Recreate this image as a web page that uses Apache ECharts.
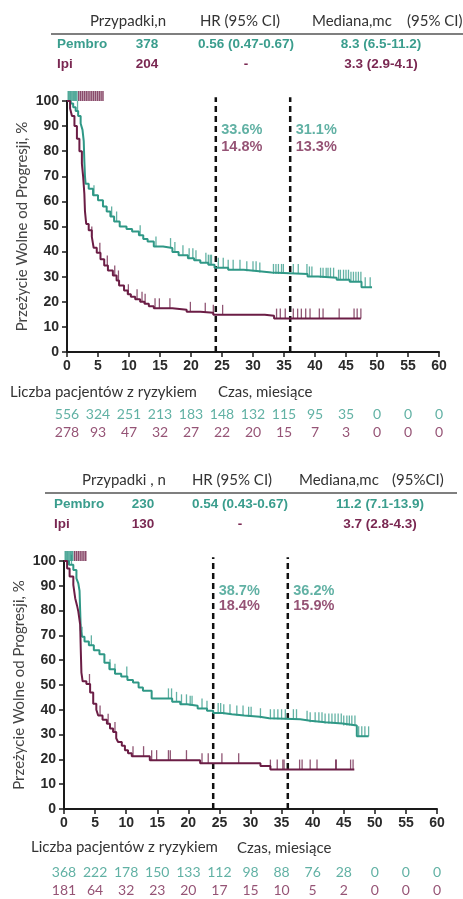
<!DOCTYPE html>
<html>
<head>
<meta charset="utf-8">
<script src="https://cdn.jsdelivr.net/npm/echarts@6/dist/echarts.min.js"></script>
<style>
  html, body { margin: 0; padding: 0; background: #fff; }
  #chart { width: 463px; height: 899px; }
</style>
</head>
<body>
<div id="chart"></div>
<script>
// ---- dane ----
var groups = ['Pembro', 'Ipi'];
var timeTicks = [0, 5, 10, 15, 20, 25, 30, 35, 40, 45, 50, 55, 60];
var landmarks = [24, 36];

// panel 1
var events1 = [378, 204];
var hr1 = ['0.56 (0.47-0.67)', '-'];
var median1 = ['8.3 (6.5-11.2)', '3.3 (2.9-4.1)'];
var pct24_1 = [33.6, 14.8];
var pct36_1 = [31.1, 13.3];
var pembroKM1 = [[0,100],[0.6,99],[1.0,97.5],[1.4,96],[1.8,94],[2.2,91],[2.5,88.5],[2.7,84],[2.8,76],[2.9,70],[3.0,67],[3.5,65],[4.2,62.5],[5.0,60.5],[5.8,58],[6.4,56],[7.0,54],[7.6,52],[8.5,50],[9.6,49],[10.5,48],[11.6,46.5],[12.3,45],[13.0,44],[14.0,42],[15.5,41.4],[17.0,39.8],[18.0,38.5],[19.5,37.4],[20.5,36.6],[21.5,35.6],[22.8,34.8],[23.8,33.6],[26.0,32.8],[28.5,32.2],[31.0,31.7],[33.0,31.1],[38.8,30.1],[40.5,29.6],[43.5,28.8],[45.6,28.0],[47.5,25.8],[49.2,25.8]];
var ipiKM1 = [[0,100],[0.5,97],[0.8,94],[1.2,90],[1.6,85],[2.0,80],[2.4,75],[2.6,70],[2.8,63],[2.9,56],[3.1,51],[3.5,48.5],[4.0,46],[4.3,41.5],[4.8,39.5],[5.4,37],[6.0,34.5],[6.6,32.5],[7.4,30.5],[8.0,28.5],[8.4,26.5],[9.2,24.5],[9.8,23],[10.3,22],[11.0,21],[11.8,20],[12.5,19.2],[13.2,18.2],[14.0,17.4],[17.0,16.8],[19.3,16.0],[21.5,15.6],[23.6,14.8],[31.9,14.4],[33.4,13.3],[47.4,13.3]];
var pembroCens1 = [1.7,4.35,7.2,8.0,11.8,14.35,16.7,17.4,18.7,19.7,20.3,20.8,22.4,22.8,23.1,23.3,24.4,25.2,26.0,26.8,27.9,29.0,30.0,30.5,31.1,33.3,33.7,34.1,34.6,34.9,36.5,37.3,38.7,39.1,39.5,40.9,41.3,41.8,42.1,42.5,43.0,43.8,44.1,44.6,45.0,45.4,45.8,46.2,46.6,47.0,47.4,48.1,48.9];
var ipiCens1 = [4.0,5.3,6.5,7.7,8.3,9.9,11.3,12.1,12.6,14.2,14.9,16.6,19.9,22.3,23.6,25.1,33.8,34.4,35.2,36.5,37.2,37.8,38.5,39.2,40.7,41.3,43.9,46.3,46.8,47.4];
var pembroTop1 = [0.2,0.4,0.6,0.8,1.0,1.2,1.4,1.6];
var ipiTop1 = [1.9,2.2,2.5,2.8,3.1,3.4,3.7,4.0,4.3,4.6,4.9,5.2,5.5,5.8];
var pembroRisk1 = [556, 324, 251, 213, 183, 148, 132, 115, 95, 35, 0, 0, 0];
var ipiRisk1 = [278, 93, 47, 32, 27, 22, 20, 15, 7, 3, 0, 0, 0];

// panel 2
var events2 = [230, 130];
var hr2 = ['0.54 (0.43-0.67)', '-'];
var median2 = ['11.2 (7.1-13.9)', '3.7 (2.8-4.3)'];
var pct24_2 = [38.7, 18.4];
var pct36_2 = [36.2, 15.9];
var pembroKM2 = [[0,100],[0.8,98.5],[1.5,96.4],[2.0,93],[2.3,91],[2.5,88],[2.6,80],[2.7,72],[2.9,69.5],[3.3,67.5],[4.0,66],[4.8,64],[5.7,62.4],[6.5,59],[7.3,56.4],[8.2,54.5],[9.2,53.4],[10.2,52],[11.1,51],[12.0,49],[12.7,47.7],[14.1,44.6],[17.4,43.2],[18.7,42.2],[19.8,41.6],[21.5,40.5],[23.0,39.6],[24.0,38.7],[25.5,38.2],[27.0,37.7],[29.0,37.2],[31.5,36.6],[33.0,36.2],[38.0,35.6],[39.6,35.0],[42.0,34.5],[44.8,33.7],[47.1,29.3],[49.0,29.3]];
var ipiKM2 = [[0,100],[0.5,97],[0.9,93.7],[1.5,90.4],[1.8,85],[2.1,82],[2.3,79.7],[2.6,74.4],[2.7,64],[2.8,55],[3.0,51.5],[3.6,50.4],[4.2,47],[4.7,42.4],[5.2,40],[5.5,37.7],[6.2,36],[6.9,34.4],[7.4,32.5],[7.9,31],[8.4,28.5],[8.7,27],[9.3,25.5],[9.8,23.7],[10.3,22.5],[10.9,21.3],[13.8,19.7],[21.9,18.4],[31.6,17.3],[33.2,15.9],[46.7,15.9]];
var pembroCens2 = [1.2,2.9,4.4,7.4,8.2,10.1,16.8,17.3,18.1,18.9,19.7,20.3,20.6,22.2,23.0,24.8,25.2,25.7,26.7,27.8,28.8,29.7,30.1,31.6,33.2,33.8,34.4,35.0,35.6,36.9,37.4,39.1,39.6,40.4,41.0,41.5,42.0,42.6,43.1,43.6,44.1,44.6,45.0,45.5,45.9,46.3,46.8,47.4,47.9,48.4,49.0];
var ipiCens2 = [4.1,5.8,7.1,8.2,11.1,12.8,14.1,14.9,16.8,17.1,19.7,22.2,23.2,25.4,28.1,33.2,34.3,35.2,35.4,37.9,38.3,39.6,40.7,43.7,43.8,46.1,46.5];
var pembroTop2 = [0.2,0.4,0.6,0.8,1.0,1.2,1.4];
var ipiTop2 = [1.7,2.0,2.3,2.6,2.9,3.2,3.5];
var pembroRisk2 = [368, 222, 178, 150, 133, 112, 98, 88, 76, 28, 0, 0, 0];
var ipiRisk2 = [181, 64, 32, 23, 20, 17, 15, 10, 5, 2, 0, 0, 0];

// ---- style ----
var TEAL = '#2f9886', TEAL_TXT = '#3a9d8d';
var PLUM = '#6b1d45', PLUM_TXT = '#7a2852';
var FONT = 'Lato, "Open Sans", sans-serif';
var BOLD = '"Liberation Sans", Arial, sans-serif';
var yName = 'Przeżycie Wolne od Progresji, %';

// wartość krzywej w chwili t (do umieszczenia znaczników cenzurowania)
function survAt(km, t) {
  var v = km[0][1];
  for (var i = 0; i < km.length; i++) { if (km[i][0] <= t) v = km[i][1]; }
  return v;
}

var myChart = echarts.init(document.getElementById('chart'));

var grids = [
  { left: 67, top: 101, width: 372, height: 251 },
  { left: 67, top: 405, width: 372, height: 36 },
  { left: 64, top: 561, width: 373, height: 248 },
  { left: 64, top: 864, width: 373, height: 38 }
];

function mainX(gi) {
  return {
    type: 'value', gridIndex: gi, min: 0, max: 60, interval: 5,
    axisLine: { lineStyle: { color: '#1a1a1a', width: 2 } },
    axisTick: { length: 5, lineStyle: { color: '#1a1a1a', width: 1.5 } },
    axisLabel: { color: '#2a2a2a', fontFamily: BOLD, fontWeight: 'bold', fontSize: 14, margin: 7 },
    splitLine: { show: false }
  };
}
function mainY(gi) {
  return {
    type: 'value', gridIndex: gi, min: 0, max: 100, interval: 10,
    name: yName, nameLocation: 'middle', nameGap: 37, nameRotate: 90, nameMoveOverlap: false,
    nameTextStyle: { fontFamily: FONT, fontSize: 15, color: '#444' },
    axisLine: { show: true, lineStyle: { color: '#1a1a1a', width: 2 } },
    axisTick: { show: true, length: 5, lineStyle: { color: '#1a1a1a', width: 1.5 } },
    axisLabel: { color: '#2a2a2a', fontFamily: BOLD, fontWeight: 'bold', fontSize: 14, margin: 8 },
    splitLine: { show: false }
  };
}
function riskX(gi) {
  return { type: 'value', gridIndex: gi, min: 0, max: 60, interval: 5, show: false };
}
function riskY(gi) {
  return { type: 'category', gridIndex: gi, data: groups, inverse: true, show: false };
}

function kmSeries(gi, km, color) {
  return {
    type: 'line', xAxisIndex: gi, yAxisIndex: gi, data: km, step: 'end',
    showSymbol: false, lineStyle: { color: color, width: 2 }, z: 3
  };
}
// przerywane linie 24 i 36 mies.
function dashSeries(gi) {
  return landmarks.map(function (m) {
    return {
      type: 'line', xAxisIndex: gi, yAxisIndex: gi, data: [[m, 0], [m, 101.5]],
      showSymbol: false, clip: false, silent: true, z: 1,
      lineStyle: { color: '#111', type: [6, 4], width: 2.5 }
    };
  });
}
function censSeries(gi, km, times, color) {
  return {
    type: 'scatter', xAxisIndex: gi, yAxisIndex: gi,
    data: times.map(function (t) { return [t, survAt(km, t)]; }),
    symbol: 'rect', symbolSize: [1.3, 10], symbolOffset: [0, -5],
    itemStyle: { color: color, opacity: 0.75 }, z: 2, silent: true
  };
}
function topSeries(gi, times, color) {
  return {
    type: 'scatter', xAxisIndex: gi, yAxisIndex: gi,
    data: times.map(function (t) { return [t, 100]; }),
    symbol: 'rect', symbolSize: [1.5, 10], symbolOffset: [0, -5],
    itemStyle: { color: color, opacity: 0.8 }, z: 2, silent: true
  };
}
function pctSeries(gi, t, vals, ys) {
  return {
    type: 'scatter', xAxisIndex: gi, yAxisIndex: gi, symbolSize: 1,
    itemStyle: { color: 'rgba(0,0,0,0)' }, silent: true,
    data: vals.map(function (v, i) {
      return {
        value: [t, ys[i]],
        label: {
          show: true, position: 'right', distance: 5,
          formatter: v.toFixed(1) + '%',
          color: i === 0 ? TEAL_TXT : PLUM_TXT,
          fontFamily: BOLD, fontWeight: 'bold', fontSize: 14.5
        }
      };
    })
  };
}
function riskSeries(gi, vals, row, color) {
  return {
    type: 'scatter', xAxisIndex: gi, yAxisIndex: gi, symbolSize: 1,
    itemStyle: { color: 'rgba(0,0,0,0)' }, silent: true,
    data: vals.map(function (v, i) { return [timeTicks[i], row, v]; }),
    label: {
      show: true, position: 'inside',
      formatter: function (p) { return String(p.value[2]); },
      color: color, fontFamily: FONT, fontSize: 14
    }
  };
}

// tabela nagłówkowa (tekst)
function headerTable(cfg) {
  var els = [];
  cfg.heads.forEach(function (h) {
    els.push({ type: 'text', style: { text: h[0], x: h[1], y: cfg.hy, textAlign: h[2], textVerticalAlign: 'middle', fontFamily: FONT, fontSize: 15, fill: '#333' } });
  });
  els.push({ type: 'line', shape: { x1: cfg.lx1, y1: cfg.ly, x2: cfg.lx2, y2: cfg.ly }, style: { stroke: '#555', lineWidth: 1.5 } });
  groups.forEach(function (g, i) {
    var y = cfg.rowY[i];
    var c = i === 0 ? TEAL_TXT : PLUM_TXT;
    var st = { fontFamily: BOLD, fontWeight: 'bold', fontSize: 13.5, fill: c, textVerticalAlign: 'middle' };
    els.push({ type: 'text', style: Object.assign({ text: g, x: cfg.cols[0], y: y, textAlign: 'left' }, st) });
    els.push({ type: 'text', style: Object.assign({ text: String(cfg.events[i]), x: cfg.cols[1], y: y, textAlign: 'center' }, st) });
    els.push({ type: 'text', style: Object.assign({ text: cfg.hr[i], x: cfg.cols[2], y: y, textAlign: 'center' }, st) });
    els.push({ type: 'text', style: Object.assign({ text: cfg.median[i], x: cfg.cols[3], y: y, textAlign: 'center' }, st) });
  });
  return els;
}

var graphics = []
  .concat(headerTable({
    heads: [['Przypadki,n', 128, 'center'], ['HR (95% CI)', 240, 'center'], ['Mediana,mc', 312, 'left'], ['(95% CI)', 407, 'left']],
    hy: 21, ly: 34, lx1: 51, lx2: 463, rowY: [44, 64],
    cols: [57, 147, 246, 381], events: events1, hr: hr1, median: median1
  }))
  .concat(headerTable({
    heads: [['Przypadki , n', 124, 'center'], ['HR (95% CI)', 232, 'center'], ['Mediana,mc', 299, 'left'], ['(95%CI)', 392, 'left']],
    hy: 480, ly: 493, lx1: 45, lx2: 457, rowY: [504, 524],
    cols: [54, 143, 240, 380], events: events2, hr: hr2, median: median2
  }))
  .concat([
    { type: 'text', style: { text: 'Liczba pacjentów z ryzykiem', x: 10, y: 392, textVerticalAlign: 'middle', fontFamily: FONT, fontSize: 15, fill: '#333' } },
    { type: 'text', style: { text: 'Czas, miesiące', x: 218, y: 392, textVerticalAlign: 'middle', fontFamily: FONT, fontSize: 15, fill: '#333' } },
    { type: 'text', style: { text: 'Liczba pacjentów z ryzykiem', x: 31, y: 847, textVerticalAlign: 'middle', fontFamily: FONT, fontSize: 15, fill: '#333' } },
    { type: 'text', style: { text: 'Czas, miesiące', x: 237, y: 848, textVerticalAlign: 'middle', fontFamily: FONT, fontSize: 15, fill: '#333' } }
  ]);

var option = {
  animation: false,
  backgroundColor: '#fff',
  grid: grids,
  xAxis: [mainX(0), riskX(1), mainX(2), riskX(3)],
  yAxis: [mainY(0), riskY(1), mainY(2), riskY(3)],
  graphic: graphics,
  series: [].concat(
    dashSeries(0),
    [
      topSeries(0, pembroTop1, TEAL), topSeries(0, ipiTop1, PLUM),
      censSeries(0, pembroKM1, pembroCens1, TEAL), censSeries(0, ipiKM1, ipiCens1, PLUM),
      kmSeries(0, pembroKM1, TEAL), kmSeries(0, ipiKM1, PLUM),
      pctSeries(0, 24, pct24_1, [88.4, 81.7]), pctSeries(0, 36, pct36_1, [88.4, 81.7]),
      riskSeries(1, pembroRisk1, 0, TEAL_TXT), riskSeries(1, ipiRisk1, 1, PLUM_TXT)
    ],
    dashSeries(2),
    [
      topSeries(2, pembroTop2, TEAL), topSeries(2, ipiTop2, PLUM),
      censSeries(2, pembroKM2, pembroCens2, TEAL), censSeries(2, ipiKM2, ipiCens2, PLUM),
      kmSeries(2, pembroKM2, TEAL), kmSeries(2, ipiKM2, PLUM),
      pctSeries(2, 24, pct24_2, [88, 82]), pctSeries(2, 36, pct36_2, [88, 82]),
      riskSeries(3, pembroRisk2, 0, TEAL_TXT), riskSeries(3, ipiRisk2, 1, PLUM_TXT)
    ]
  )
};

myChart.setOption(option);
</script>
</body>
</html>
